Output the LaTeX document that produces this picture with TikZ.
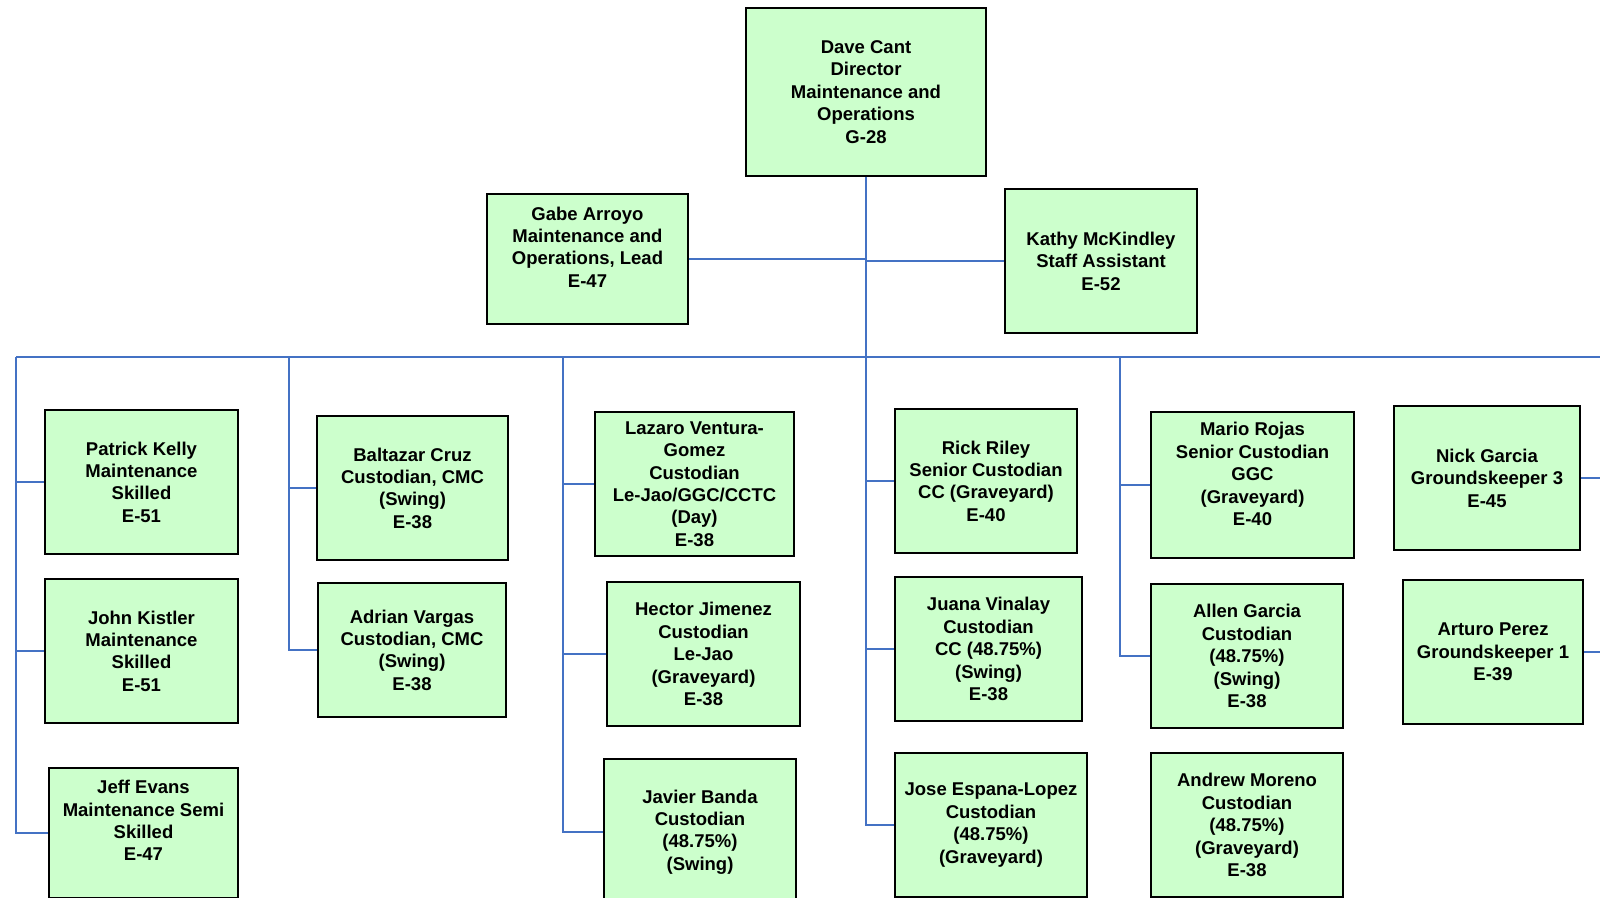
\documentclass[tikz,border=0pt]{standalone}
\usepackage{fontspec}
\setmainfont{Liberation Sans}
\definecolor{boxgreen}{HTML}{CCFFCC}
\definecolor{linkblue}{HTML}{4472C4}
\begin{document}
\begin{tikzpicture}[x=0.5pt,y=-0.5pt,
  box/.style={draw=black, line width=0.75pt, fill=boxgreen, align=center, inner sep=0pt,
    font=\fontsize{9.25}{11.2}\selectfont\bfseries},
  lbl/.style={align=center, inner sep=0pt, font=\fontsize{9.25}{11.2}\selectfont\bfseries},
  link/.style={draw=linkblue, line width=0.85pt}]
\useasboundingbox (0,0) rectangle (1600,898);
\clip (0,0) rectangle (1600,898);

% top level
\node[box, minimum width=120pt, minimum height=84pt] (dir) at (866,92) {Dave Cant\\Director\\Maintenance and\\Operations\\G-28};
\node[box, minimum width=100.5pt, minimum height=65pt] (gabe) at (587.5,259) {};
\node[lbl] (gabetext) at (587.5,247) {Gabe Arroyo\\Maintenance and\\Operations, Lead\\E-47};
\node[box, minimum width=96pt, minimum height=72pt] (kathy) at (1101,261) {Kathy McKindley\\Staff Assistant\\E-52};

% column 1
\node[box, minimum width=96.5pt, minimum height=72pt] (patrick) at (141.5,482) {Patrick Kelly\\Maintenance\\Skilled\\E-51};
\node[box, minimum width=96.5pt, minimum height=72pt] (john) at (141.5,651) {John Kistler\\Maintenance\\Skilled\\E-51};
\node[box, minimum width=94.5pt, minimum height=65pt] (jeff) at (143.5,833) {};
\node[lbl] (jefftext) at (143.5,820.5) {Jeff Evans\\Maintenance Semi\\Skilled\\E-47};

% column 2
\node[box, minimum width=95.5pt, minimum height=72pt] (baltazar) at (412.5,488) {Baltazar Cruz\\Custodian, CMC\\(Swing)\\E-38};
\node[box, minimum width=94pt, minimum height=67pt] (adrian) at (412,650) {Adrian Vargas\\Custodian, CMC\\(Swing)\\E-38};

% column 3
\node[box, minimum width=99.5pt, minimum height=72pt] (lazaro) at (694.5,484) {Lazaro Ventura-\\Gomez\\Custodian\\Le-Jao/GGC/CCTC\\(Day)\\E-38};
\node[box, minimum width=96.5pt, minimum height=72pt] (hector) at (703.5,654) {Hector Jimenez\\Custodian\\Le-Jao\\(Graveyard)\\E-38};
\node[box, minimum width=96pt, minimum height=73pt] (javier) at (700,832) {Javier Banda\\Custodian\\(48.75\%)\\(Swing)};

% column 4
\node[box, minimum width=91pt, minimum height=72pt] (rick) at (986,481) {Rick Riley\\Senior Custodian\\CC (Graveyard)\\E-40};
\node[box, minimum width=93.5pt, minimum height=72pt] (juana) at (988.5,649) {Juana Vinalay\\Custodian\\CC (48.75\%)\\(Swing)\\E-38};
\node[box, minimum width=96pt, minimum height=72pt] (jose) at (991,825) {Jose Espana-Lopez\\Custodian\\(48.75\%)\\(Graveyard)};

% column 5
\node[box, minimum width=101.5pt, minimum height=73pt] (mario) at (1252.5,485) {};
\node[lbl] (mariotext) at (1252.5,474) {Mario Rojas\\Senior Custodian\\GGC\\(Graveyard)\\E-40};
\node[box, minimum width=96pt, minimum height=72pt] (allen) at (1247,656) {Allen Garcia\\Custodian\\(48.75\%)\\(Swing)\\E-38};
\node[box, minimum width=96pt, minimum height=72pt] (andrew) at (1247,825) {Andrew Moreno\\Custodian\\(48.75\%)\\(Graveyard)\\E-38};

% column 6
\node[box, minimum width=93pt, minimum height=72pt] (nick) at (1487,478) {Nick Garcia\\Groundskeeper 3\\E-45};
\node[box, minimum width=90pt, minimum height=72pt] (arturo) at (1493,652) {Arturo Perez\\Groundskeeper 1\\E-39};

% bus coordinates
\coordinate (busL) at (16,357);
\coordinate (busR) at (1600,357);
\coordinate (c2) at (289,357);
\coordinate (c3) at (563,357);
\coordinate (jT) at (866,357);
\coordinate (c5) at (1120,357);
\coordinate (nickR) at (1600,478);
\coordinate (arturoR) at (1600,652);

% connectors
\draw[link] (dir.south) -- (jT);
\draw[link] (gabe.east) -- (gabe.east -| dir.south);
\draw[link] (kathy.west) -- (kathy.west -| dir.south);
\draw[link] (busL) -- (busR);

\draw[link] (busL) |- (jeff.west);
\draw[link] (busL |- patrick.west) -- (patrick.west);
\draw[link] (busL |- john.west) -- (john.west);

\draw[link] (c2) |- (adrian.west);
\draw[link] (c2 |- baltazar.west) -- (baltazar.west);

\draw[link] (c3) |- (javier.west);
\draw[link] (c3 |- lazaro.west) -- (lazaro.west);
\draw[link] (c3 |- hector.west) -- (hector.west);

\draw[link] (jT) |- (jose.west);
\draw[link] (jT |- rick.west) -- (rick.west);
\draw[link] (jT |- juana.west) -- (juana.west);

\draw[link] (c5) |- (allen.west);
\draw[link] (c5 |- mario.west) -- (mario.west);

\draw[link] (nick.east) -- (nickR);
\draw[link] (arturo.east) -- (arturoR);
\end{tikzpicture}
\end{document}
